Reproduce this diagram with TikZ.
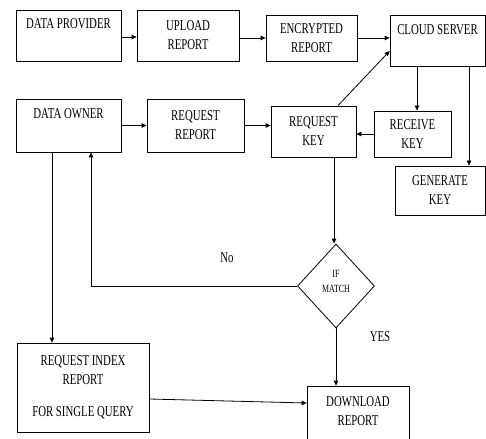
\documentclass[tikz,border=0pt]{standalone}
\usepackage{fontspec}
\setmainfont{Liberation Serif}[FakeStretch=0.72]
\usetikzlibrary{shapes.geometric,arrows.meta}
\begin{document}
\begin{tikzpicture}[x=1pt,y=-1pt,
  box/.style={draw, line width=0.8pt, inner sep=0pt},
  lbl/.style={font=\fontsize{15}{19}\selectfont, align=center, inner sep=0pt},
  tbox/.style={box, lbl},
  arr/.style={draw, line width=0.8pt, -{Triangle[length=5pt,width=4.5pt]}}]
\useasboundingbox (0,0) rectangle (486,438);
% boxes
\node[box, minimum width=105pt, minimum height=51pt] (dp) at (68.5,35.5) {};
\node[lbl] (dpt) at (68.5,24) {DATA PROVIDER};
\node[tbox, minimum width=102pt, minimum height=51pt] (ur) at (188,35.5) {UPLOAD\\REPORT};
\node[tbox, minimum width=91pt, minimum height=46pt] (er) at (311.5,38) {ENCRYPTED\\REPORT};
\node[box, minimum width=95pt, minimum height=51pt] (cs) at (437.5,40.5) {};
\node[lbl] (cst) at (437.5,30) {CLOUD SERVER};
\node[box, minimum width=105pt, minimum height=53pt] (do) at (68.5,125.5) {};
\node[lbl] (dot) at (68.5,114) {DATA OWNER};
\node[tbox, minimum width=97pt, minimum height=53pt] (rr) at (195.5,125.5) {REQUEST\\REPORT};
\node[tbox, minimum width=85pt, minimum height=51pt] (rk) at (313.5,131.5) {REQUEST\\KEY};
\node[tbox, minimum width=77pt, minimum height=46pt] (rck) at (412.5,134) {RECEIVE\\KEY};
\node[tbox, minimum width=90pt, minimum height=49pt] (gk) at (440,190.5) {GENERATE\\KEY};
\node[box, diamond, aspect=0.92, minimum width=77pt, minimum height=84pt] (dm) at (336,286) {};
\node[font=\fontsize{11}{15}\selectfont, align=center, inner sep=0pt] (dmt) at (336,281) {IF\\MATCH};
\node[tbox, minimum width=132pt, minimum height=89pt] (rir) at (83,387.5) {REQUEST INDEX\\REPORT\\[13pt]FOR SINGLE QUERY};
\node[box, minimum width=102pt, minimum height=55pt] (dr) at (358,413.5) {};
\node[lbl] (drt) at (358,411) {DOWNLOAD\\REPORT};
% labels
\node[lbl] (no) at (227,258) {No};
\node[lbl] (yes) at (380,337) {YES};
% helper coordinates
\coordinate (c1) at ([xshift=4.5pt]rck.north);
\coordinate (c2) at ([xshift=29pt]gk.north);
\coordinate (c3) at ([xshift=20.5pt]rk.south);
\coordinate (c4) at ([xshift=22.5pt]do.south);
\coordinate (c5) at ([xshift=-16.5pt]do.south);
% arrows
\draw[arr] ([yshift=-1.5pt]dp.east) -- ([yshift=-1.5pt]ur.west);
\draw[arr] (ur.east |- er.west) -- (er.west);
\draw[arr] (er.east) -- (er.east -| cs.west);
\draw[arr] (do.east) -- (rr.west);
\draw[arr] (rr.east) -- (rr.east -| rk.west);
\draw[arr] ([xshift=24.5pt]rk.north) -- ([yshift=-10.5pt]cs.west);
\draw[arr] (c1 |- cs.south) -- (c1);
\draw[arr] (c2 |- cs.south) -- (c2);
\draw[arr] (rck.west) -- (rck.west -| rk.east);
\draw[arr] (c3) -- (c3 |- dm.north);
\draw[arr] (dm.west) -- (dm.west -| c4) -- (c4);
\draw[arr] (c5) -- (c5 |- rir.north);
\draw[arr] (dm.south) -- (dm.south |- dr.north);
\draw[arr] ([yshift=-11.5pt]rir.east) -- ([yshift=10.5pt]dr.west);
\end{tikzpicture}
\end{document}
